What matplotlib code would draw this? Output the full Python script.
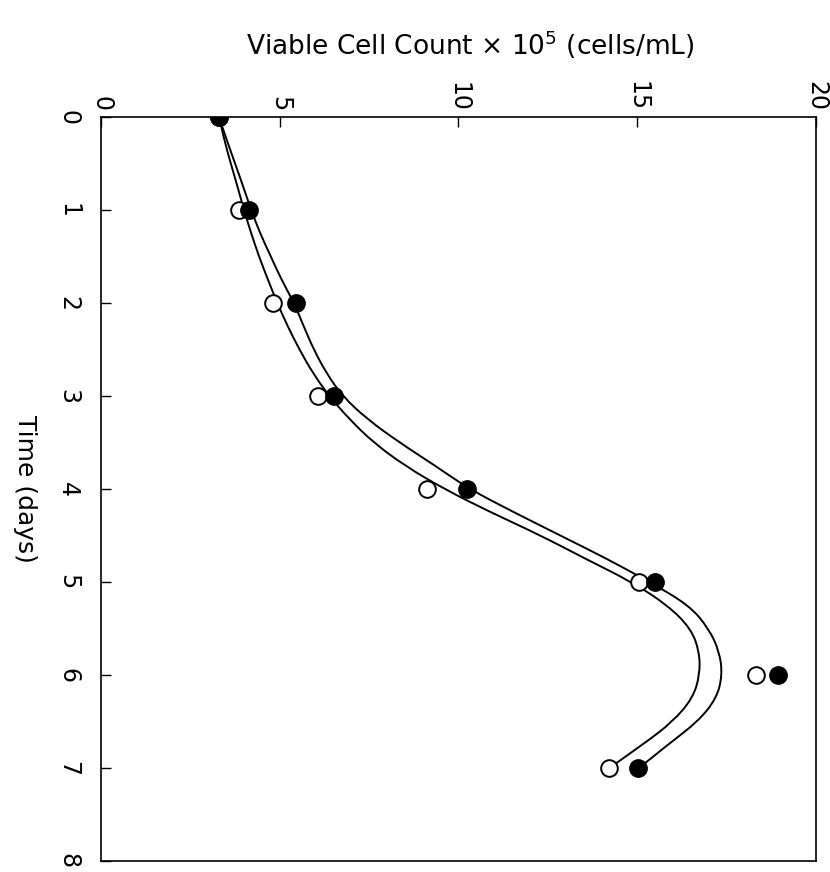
import matplotlib
matplotlib.use("Agg")
import matplotlib.pyplot as plt
from matplotlib.path import Path
from matplotlib.patches import PathPatch

plt.rcParams['font.family'] = ['DejaVu Sans']

# measured cell counts (x 10^5 cells/mL) per day
days = [0, 1, 2, 3, 4, 5, 6, 7]
countOpen = [3.30, 3.87, 4.80, 6.06, 9.11, 15.06, 18.32, 14.21]
countFilled = [3.30, 4.13, 5.45, 6.52, 10.23, 15.50, 18.95, 15.03]

# hand-drawn fit curves, read every quarter day
curveDays = [0, 0.25, 0.5, 0.75, 1.0, 1.25, 1.5, 1.75, 2.0, 2.25, 2.5, 2.75,
             3.0, 3.25, 3.5, 3.75, 4.0, 4.25, 4.5, 4.75, 5.0, 5.25, 5.5,
             5.75, 6.0, 6.25, 6.5, 6.75, 7.0]
curveOpen = [3.30, 3.45, 3.63, 3.82, 4.00, 4.20, 4.42, 4.67, 4.93, 5.22,
             5.55, 5.92, 6.38, 6.95, 7.62, 8.50, 9.60, 10.90, 12.30, 13.55,
             14.85, 15.85, 16.50, 16.74, 16.75, 16.55, 16.00, 15.15, 14.22]
curveFilled = [3.30, 3.52, 3.75, 3.98, 4.20, 4.45, 4.75, 5.05, 5.40, 5.67,
               5.95, 6.30, 6.75, 7.45, 8.35, 9.35, 10.30, 11.55, 12.85,
               14.15, 15.35, 16.45, 17.00, 17.30, 17.38, 17.22, 16.70,
               15.85, 15.05]

countTicks = [0, 5, 10, 15, 20]
dayTicks = [0, 1, 2, 3, 4, 5, 6, 7, 8]


def smoothCurve(ax, xs, ys, **kw):
    # quadratic B-spline through the midpoints, anchored at both ends
    pts = list(zip(xs, ys))
    verts = [pts[0]]
    codes = [Path.MOVETO]
    for i in range(1, len(pts) - 1):
        mid = ((pts[i][0] + pts[i + 1][0]) / 2, (pts[i][1] + pts[i + 1][1]) / 2)
        if i == len(pts) - 2:
            mid = pts[-1]
        verts += [pts[i], mid]
        codes += [Path.CURVE3, Path.CURVE3]
    ax.add_patch(PathPatch(Path(verts, codes), fill=False, **kw))


fig = plt.figure(figsize=(8.3, 8.72), dpi=100)
ax = fig.add_axes([0.1217, 0.0126, 0.8614, 0.8532])

smoothCurve(ax, curveOpen, curveDays, color='black', lw=1.4, zorder=2)
smoothCurve(ax, curveFilled, curveDays, color='black', lw=1.4, zorder=2)
ax.plot(countOpen, days, 'o', ms=12, mfc='white', mec='black', mew=1.4,
        ls='none', zorder=3)
ax.plot(countFilled, days, 'o', ms=12.5, mfc='black', mec='black',
        ls='none', zorder=4)

ax.set_xlim(0, 20)
ax.set_ylim(8, 0)

ax.xaxis.tick_top()
ax.set_xticks(countTicks)
ax.set_xticklabels([str(v) for v in countTicks], rotation=-90)
ax.set_yticks(dayTicks)
ax.set_yticklabels([str(v) for v in dayTicks], rotation=-90, va='center')
ax.tick_params(axis='x', direction='in', length=7, width=1, pad=4,
               labelsize=17, top=True, bottom=False)
ax.tick_params(axis='y', direction='in', length=7, width=1, pad=15,
               labelsize=17, left=True, right=False)
for sp in ax.spines.values():
    sp.set_linewidth(1.2)

ax.set_ylabel('Time (days)', rotation=-90, fontsize=18, ha='center',
              va='center')
ax.yaxis.set_label_coords(-0.106, 0.5)

fig.text(470 / 830, 1 - 45 / 872,
         'Viable Cell Count \u00d7 10$^{5}$ (cells/mL)',
         fontsize=19, ha='center', va='center')

fig.savefig('out.png', dpi=100)
